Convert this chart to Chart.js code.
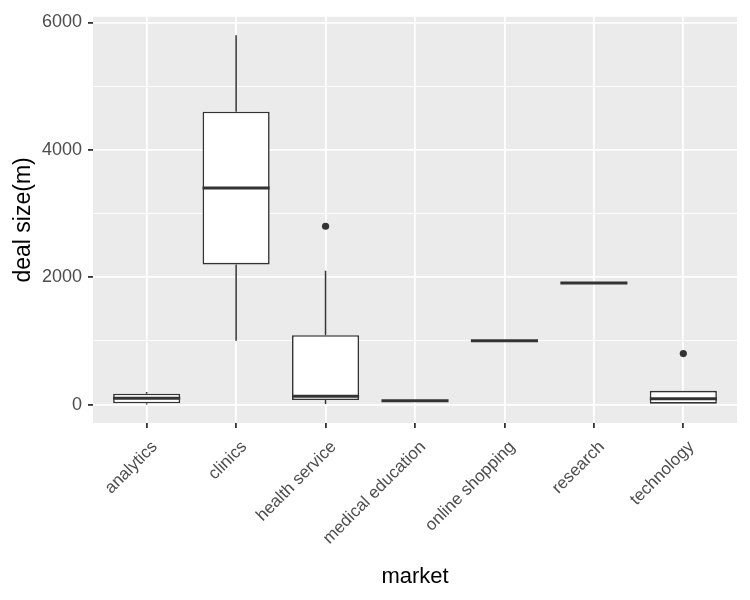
<!DOCTYPE html>
<html>
<head>
<meta charset="utf-8">
<script src="https://cdn.jsdelivr.net/npm/chart.js@4/dist/chart.umd.min.js"></script>
<style>
  body { margin: 0; background: #fff; }
</style>
</head>
<body>
<canvas id="grafica" width="750" height="600"></canvas>
<script>
// Datos del boxplot: una posicion por mercado
var markets = ['analytics', 'clinics', 'health service', 'medical education',
               'online shopping', 'research', 'technology'];
var lowerWhisker = [0, 1000, 10, 60, 1000, 1910, 0];
var q1 = [20, 2200, 70, 60, 1000, 1910, 0];
var median = [100, 3400, 130, 60, 1000, 1910, 90];
var q3 = [170, 4600, 1090, 60, 1000, 1910, 215];
var upperWhisker = [195, 5800, 2100, 60, 1000, 1910, 215];
var outliers = [null, null, 2800, null, null, null, 800];
var yTicks = [0, 1000, 2000, 3000, 4000, 5000, 6000];

var tinta = '#333333';
var textoEje = '#4D4D4D';

// fondo gris del panel (estilo ggplot)
var panelPlugin = {
    id: 'panel',
    beforeDraw: function (chart) {
        var a = chart.chartArea, ctx = chart.ctx;
        ctx.save();
        ctx.fillStyle = '#EBEBEB';
        ctx.fillRect(a.left, a.top, a.right - a.left, a.bottom - a.top);
        ctx.restore();
    }
};

// bigotes y medianas dibujados con las escalas del grafico
var boxPlugin = {
    id: 'boxes',
    beforeDatasetsDraw: function (chart) {
        var ctx = chart.ctx, xs = chart.scales.x, ys = chart.scales.y;
        ctx.save();
        ctx.strokeStyle = tinta;
        ctx.lineWidth = 1.5;
        for (var i = 0; i < markets.length; i++) {
            var x = xs.getPixelForValue(i + 1);
            ctx.beginPath();
            ctx.moveTo(x, ys.getPixelForValue(q3[i]));
            ctx.lineTo(x, ys.getPixelForValue(upperWhisker[i]));
            ctx.moveTo(x, ys.getPixelForValue(q1[i]));
            ctx.lineTo(x, ys.getPixelForValue(lowerWhisker[i]));
            ctx.stroke();
        }
        ctx.restore();
    },
    afterDatasetsDraw: function (chart) {
        var ctx = chart.ctx, xs = chart.scales.x, ys = chart.scales.y;
        var meta = chart.getDatasetMeta(0);
        ctx.save();
        ctx.strokeStyle = tinta;
        ctx.lineWidth = 3;
        for (var i = 0; i < markets.length; i++) {
            var x = xs.getPixelForValue(i + 1);
            var half = meta.data[i].width / 2;
            var y = ys.getPixelForValue(median[i]);
            ctx.beginPath();
            ctx.moveTo(x - half, y);
            ctx.lineTo(x + half, y);
            ctx.stroke();
        }
        ctx.restore();
    }
};

var ctx = document.getElementById('grafica').getContext('2d');
var graf = new Chart(ctx, {
    type: 'bar',
    data: {
        datasets: [{
            data: markets.map(function (m, i) { return { x: i + 1, y: [q1[i], q3[i]] }; }),
            backgroundColor: '#FFFFFF',
            borderColor: tinta,
            borderWidth: 1.6,
            borderSkipped: false,
            barPercentage: 0.75,
            categoryPercentage: 1
        }, {
            type: 'line',
            data: outliers.map(function (v, i) { return { x: i + 1, y: v }; })
                          .filter(function (p) { return p.y !== null; }),
            showLine: false,
            pointRadius: 3.6,
            pointBackgroundColor: tinta,
            pointBorderWidth: 0
        }]
    },
    options: {
        responsive: false,
        animation: false,
        layout: { padding: { top: 11, right: 13, left: 0, bottom: 0 } },
        plugins: { legend: { display: false }, tooltip: { enabled: false } },
        scales: {
            x: {
                type: 'linear',
                min: 0.4,
                max: 7.6,
                offset: false,
                afterBuildTicks: function (axis) {
                    axis.ticks = markets.map(function (m, i) { return { value: i + 1 }; });
                },
                afterFit: function (axis) { axis.height = 177; },
                border: { display: false },
                grid: {
                    offset: false,
                    color: '#FFFFFF',
                    lineWidth: 1.8,
                    tickColor: tinta,
                    tickLength: 5
                },
                ticks: {
                    autoSkip: false,
                    maxRotation: 45,
                    minRotation: 45,
                    padding: 9,
                    labelOffset: 8,
                    color: textoEje,
                    font: { family: 'Liberation Sans', size: 17 },
                    callback: function (v) { return markets[v - 1]; }
                },
                title: {
                    display: true,
                    text: 'market',
                    color: '#000000',
                    padding: { top: 0, bottom: 10 },
                    font: { family: 'Liberation Sans', size: 22 }
                }
            },
            y: {
                min: -290,
                max: 6090,
                afterBuildTicks: function (axis) {
                    axis.ticks = yTicks.map(function (v) { return { value: v }; });
                },
                afterFit: function (axis) { axis.width = 93; },
                border: { display: false },
                grid: {
                    color: '#FFFFFF',
                    lineWidth: function (c) { return c.tick && c.tick.value % 2000 === 0 ? 1.8 : 0.9; },
                    tickColor: function (c) { return c.tick && c.tick.value % 2000 === 0 ? tinta : 'rgba(0,0,0,0)'; },
                    tickLength: 5
                },
                ticks: {
                    padding: 6,
                    color: textoEje,
                    font: { family: 'Liberation Sans', size: 18 },
                    callback: function (v) { return v % 2000 === 0 ? String(v) : ''; }
                },
                title: {
                    display: true,
                    text: 'deal size(m)',
                    color: '#000000',
                    padding: { top: 10, bottom: 0 },
                    font: { family: 'Liberation Sans', size: 23 }
                }
            }
        }
    },
    plugins: [panelPlugin, boxPlugin]
});
</script>
</body>
</html>
